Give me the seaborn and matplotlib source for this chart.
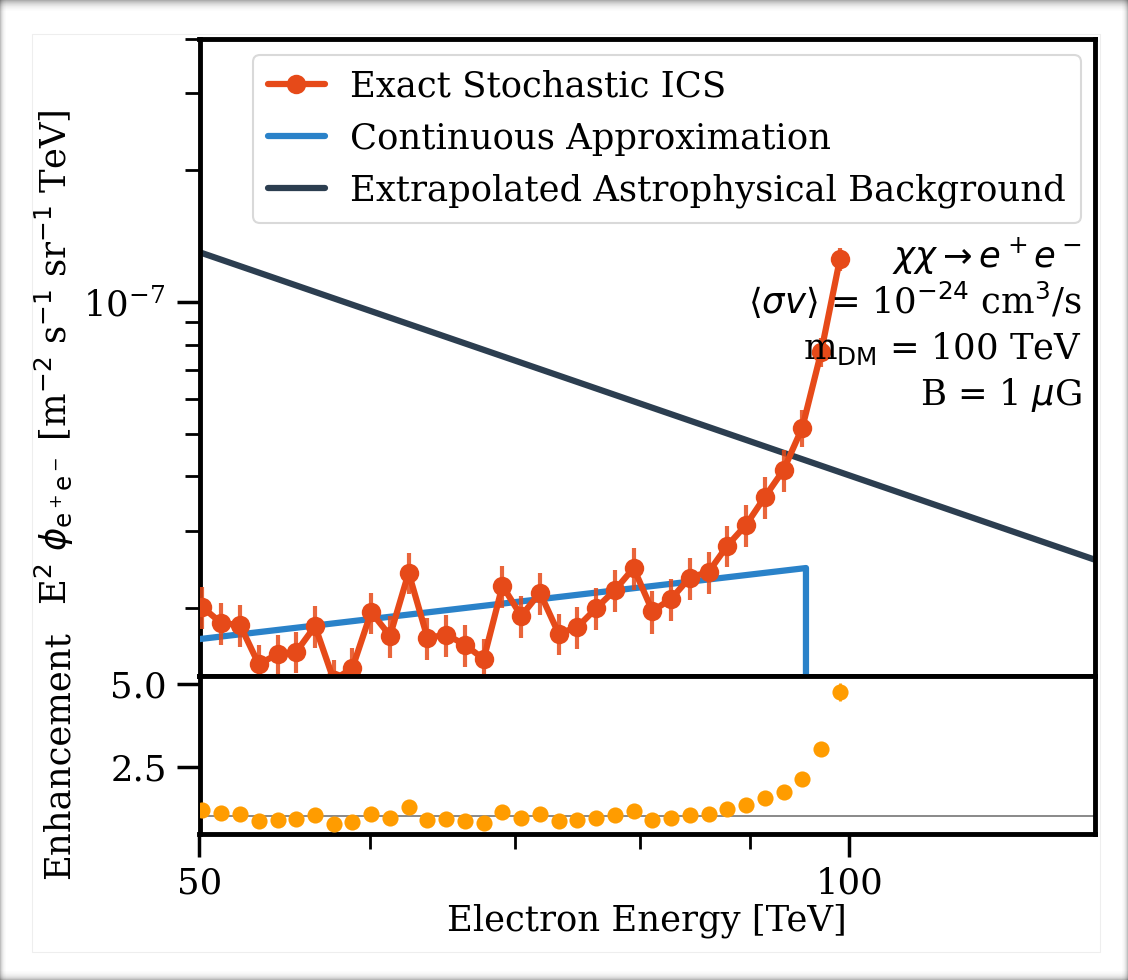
import matplotlib
matplotlib.use("Agg")
import matplotlib.pyplot as plt
import seaborn as sns
from matplotlib.patches import Rectangle
from matplotlib.ticker import FixedLocator, FixedFormatter, NullFormatter, NullLocator, LogLocator

# ---- data -------------------------------------------------------------
energy_tev = [50.16, 51.17, 52.21, 53.26, 54.34, 55.44, 56.56, 57.70, 58.86, 60.05,
              61.27, 62.50, 63.77, 65.06, 66.37, 67.71, 69.08, 70.48, 71.90, 73.35,
              74.83, 76.35, 77.89, 79.46, 81.07, 82.70, 84.37, 86.08, 87.82, 89.59,
              91.40, 93.25, 95.13, 97.06, 99.02]

exact_flux = [2.01e-8, 1.85e-8, 1.83e-8, 1.49e-8, 1.57e-8, 1.59e-8, 1.82e-8, 1.37e-8, 1.46e-8, 1.96e-8,
              1.73e-8, 2.41e-8, 1.71e-8, 1.74e-8, 1.65e-8, 1.53e-8, 2.25e-8, 1.92e-8, 2.17e-8, 1.75e-8,
              1.81e-8, 2.00e-8, 2.20e-8, 2.47e-8, 1.97e-8, 2.10e-8, 2.35e-8, 2.42e-8, 2.78e-8, 3.10e-8,
              3.59e-8, 4.14e-8, 5.17e-8, 7.69e-8, 1.253e-7]

exact_err = [0.22e-8, 0.20e-8, 0.20e-8, 0.16e-8, 0.17e-8, 0.17e-8, 0.20e-8, 0.15e-8, 0.16e-8, 0.21e-8,
             0.19e-8, 0.26e-8, 0.19e-8, 0.19e-8, 0.18e-8, 0.17e-8, 0.25e-8, 0.21e-8, 0.24e-8, 0.19e-8,
             0.20e-8, 0.22e-8, 0.24e-8, 0.27e-8, 0.22e-8, 0.23e-8, 0.26e-8, 0.27e-8, 0.30e-8, 0.34e-8,
             0.39e-8, 0.45e-8, 0.50e-8, 0.58e-8, 0.75e-8]

enhancement = [1.17, 1.09, 1.07, 0.85, 0.89, 0.90, 1.02, 0.74, 0.80, 1.07,
               0.94, 1.28, 0.89, 0.90, 0.84, 0.77, 1.12, 0.95, 1.07, 0.84,
               0.87, 0.95, 1.04, 1.14, 0.89, 0.95, 1.04, 1.07, 1.20, 1.33,
               1.53, 1.72, 2.12, 3.04, 4.76]

enhancement_err = [0.08, 0.08, 0.08, 0.07, 0.07, 0.07, 0.08, 0.07, 0.07, 0.08,
                   0.07, 0.09, 0.07, 0.07, 0.07, 0.07, 0.08, 0.07, 0.08, 0.07,
                   0.07, 0.07, 0.08, 0.08, 0.07, 0.07, 0.08, 0.08, 0.08, 0.09,
                   0.10, 0.11, 0.13, 0.17, 0.28]

cont_energy = [50.0, 95.5, 95.5]
cont_flux = [1.70e-8, 2.47e-8, 1.0e-9]

bg_energy = [50.0, 130.0]
bg_flux = [1.30e-7, 2.58e-8]

x_major = [50, 100]
x_major_labels = ["50", "100"]
x_minor = [60, 70, 80, 90]
enh_ticks = [2.5, 5.0]

annotation_lines = [r"$\chi\chi \rightarrow e^+e^-$",
                    r"$\langle\sigma v\rangle$ = 10$^{-24}$ cm$^3$/s",
                    r"m$_{\rm DM}$ = 100 TeV",
                    r"B = 1 $\mu$G"]

# ---- style ------------------------------------------------------------
sns.set_theme(style="ticks", context="notebook")
plt.rcParams["font.family"] = ["DejaVu Serif"]
plt.rcParams["mathtext.fontset"] = "dejavusans"
plt.rcParams["axes.linewidth"] = 3.5
plt.rcParams["axes.edgecolor"] = "black"
for key in ("text.color", "axes.labelcolor", "xtick.color", "ytick.color"):
    plt.rcParams[key] = "black"

FS = 25.5
LW = 4.5
C_EXACT = "#e64a19"
C_CONT = "#2a82c9"
C_BG = "#2c3e50"
C_ENH = "#ff9c00"

W, H = 1128, 980
fig = plt.figure(figsize=(W / 100, H / 100), dpi=100, facecolor="white")

ax_top = fig.add_axes([199.5 / W, 1 - 676 / H, (1095 - 199.5) / W, (676 - 38.5) / H])
ax_bot = fig.add_axes([199.5 / W, 1 - 834 / H, (1095 - 199.5) / W, (834 - 676) / H], sharex=ax_top)

for ax in (ax_top, ax_bot):
    ax.set_xscale("log")
    for sp in ax.spines.values():
        sp.set_visible(True)
        sp.set_linewidth(3.5)
        sp.set_color("black")

ax_top.set_yscale("log")

# ---- top panel --------------------------------------------------------
sns.lineplot(x=bg_energy, y=bg_flux, color=C_BG, linewidth=LW, estimator=None, sort=False,
             label="Extrapolated Astrophysical Background", ax=ax_top, zorder=2)
sns.lineplot(x=cont_energy, y=cont_flux, color=C_CONT, linewidth=LW, estimator=None, sort=False,
             label="Continuous Approximation", ax=ax_top, zorder=3)
ax_top.errorbar(energy_tev, exact_flux, yerr=exact_err, fmt="none", ecolor=C_EXACT,
                elinewidth=3.0, alpha=0.85, capsize=0, zorder=4)
sns.lineplot(x=energy_tev, y=exact_flux, color=C_EXACT, linewidth=LW, marker="o",
             markersize=14, markeredgewidth=0, estimator=None, sort=False,
             label="Exact Stochastic ICS", ax=ax_top, zorder=5)

ax_top.set_xlim(50, 130)
ax_top.set_ylim(1.4e-8, 4e-7)
ax_top.yaxis.set_major_locator(LogLocator(base=10))
ax_top.yaxis.set_minor_locator(LogLocator(base=10, subs=[2, 3, 4, 5, 6, 7, 8, 9]))
ax_top.yaxis.set_minor_formatter(NullFormatter())
ax_top.tick_params(axis="x", which="both", bottom=False, labelbottom=False)
ax_top.tick_params(axis="y", which="major", length=16.5, width=2.5, labelsize=FS, pad=8)
ax_top.tick_params(axis="y", which="minor", length=10.5, width=2.0)
ax_top.set_xlabel("")
ax_top.set_ylabel(r"E$^2$ $\phi_{\rm e^+e^-}$ [m$^{-2}$ s$^{-1}$ sr$^{-1}$ TeV]", fontsize=FS)
ax_top.yaxis.set_label_coords(-0.138, 0.5)

handles, labels = ax_top.get_legend_handles_labels()
order = ["Exact Stochastic ICS", "Continuous Approximation", "Extrapolated Astrophysical Background"]
hmap = dict(zip(labels, handles))
leg = ax_top.legend([hmap[k] for k in order], order, loc="upper left",
                    bbox_to_anchor=((253 - 199.5) / 895.5, 1 - (55 - 38.5) / 637.5),
                    borderaxespad=0, fontsize=FS, frameon=True, fancybox=True,
                    framealpha=1, edgecolor="#d9d9d9", handlelength=1.6,
                    handletextpad=0.72, labelspacing=0.5, borderpad=0.42)
leg.get_frame().set_linewidth(1.5)

ann_y = [0.6416, 0.5678, 0.4973, 0.4251]
for txt, yy in zip(annotation_lines, ann_y):
    ax_top.text(0.9855, yy, txt, transform=ax_top.transAxes, ha="right", va="baseline",
                fontsize=FS, zorder=6)

# ---- bottom panel -----------------------------------------------------
ax_bot.axhline(1.0, color="#808080", linewidth=1.3, zorder=1)
ax_bot.errorbar(energy_tev, enhancement, yerr=enhancement_err, fmt="none", ecolor=C_ENH,
                elinewidth=2.0, capsize=0, zorder=2)
sns.scatterplot(x=energy_tev, y=enhancement, color=C_ENH, s=135, linewidth=0,
                ax=ax_bot, zorder=3)
ax_bot.set_ylim(0.45, 5.25)
ax_bot.yaxis.set_major_locator(FixedLocator(enh_ticks))
ax_bot.yaxis.set_major_formatter(FixedFormatter([f"{v:.1f}" for v in enh_ticks]))
ax_bot.yaxis.set_minor_locator(NullLocator())
ax_bot.xaxis.set_major_locator(FixedLocator(x_major))
ax_bot.xaxis.set_major_formatter(FixedFormatter(x_major_labels))
ax_bot.xaxis.set_minor_locator(FixedLocator(x_minor))
ax_bot.xaxis.set_minor_formatter(NullFormatter())
ax_bot.set_xlim(50, 130)
ax_bot.tick_params(axis="both", which="major", length=16.5, width=2.5, labelsize=FS, pad=7)
ax_bot.tick_params(axis="x", which="minor", length=10.5, width=2.0)
ax_bot.set_ylabel("Enhancement", fontsize=FS)
ax_bot.yaxis.set_label_coords(-0.138, 0.5)
ax_bot.set_xlabel("Electron Energy [TeV]", fontsize=FS)
ax_bot.xaxis.set_label_coords(0.5, -0.44)

# ---- window frame -----------------------------------------------------
fig.add_artist(Rectangle((32 / W, 1 - 952 / H), (1100 - 32) / W, (952 - 34) / H,
                         transform=fig.transFigure, fill=False, edgecolor="#eeeeee",
                         linewidth=0.8))
top_alpha = [0.32, 0.26, 0.21, 0.17, 0.13, 0.10, 0.07, 0.05, 0.035, 0.02, 0.01]
for i, a in enumerate(top_alpha):
    fig.add_artist(Rectangle((0, 1 - (i + 1) / H), 1, 1 / H, transform=fig.transFigure,
                             facecolor="black", edgecolor="none", alpha=a))
bot_alpha = [0.28, 0.2, 0.14, 0.1, 0.07, 0.05, 0.03, 0.02, 0.01]
for i, a in enumerate(bot_alpha):
    fig.add_artist(Rectangle((0, i / H), 1, 1 / H, transform=fig.transFigure,
                             facecolor="black", edgecolor="none", alpha=a))
side_alpha = [0.25, 0.16, 0.1, 0.06, 0.03, 0.015]
for i, a in enumerate(side_alpha):
    fig.add_artist(Rectangle((i / W, 0), 1 / W, 1, transform=fig.transFigure,
                             facecolor="black", edgecolor="none", alpha=a))
    fig.add_artist(Rectangle((1 - (i + 1) / W, 0), 1 / W, 1, transform=fig.transFigure,
                             facecolor="black", edgecolor="none", alpha=a))

fig.savefig("out.png", dpi=100, facecolor="white")
